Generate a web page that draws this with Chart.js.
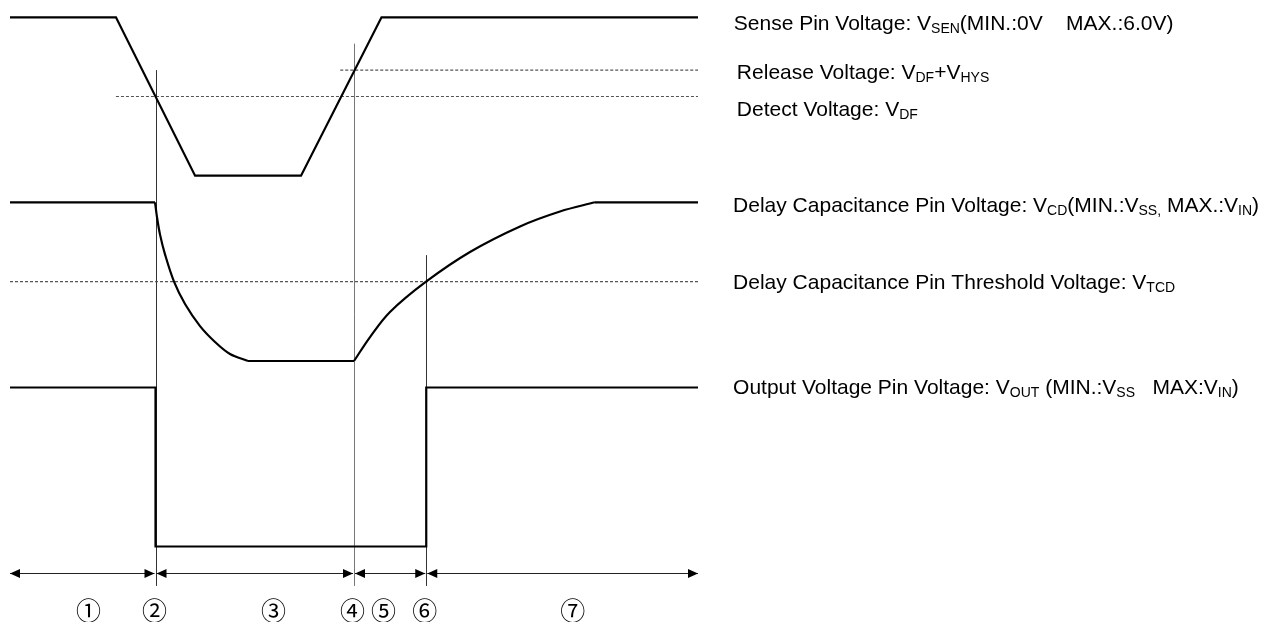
<!DOCTYPE html>
<html>
<head>
<meta charset="utf-8">
<title>Voltage detector timing chart</title>
<script src="https://cdn.jsdelivr.net/npm/chart.js@4.4.1/dist/chart.umd.min.js"></script>
<style>
    html, body { margin: 0; padding: 0; background: #ffffff; }
    #wrap { position: relative; width: 1265px; height: 622px; }
</style>
</head>
<body>
<div id="wrap"><canvas id="timingChart"></canvas></div>
<script>
// ── Time base: 0 … 100 = one detect / release cycle ──
// Sense pin voltage V_SEN (V)
const senTime = [0, 15.4, 26.9, 42.3, 54.0, 100];
const senVolt = [6, 6, 0, 0, 6, 6];
const detectVolt  = 3.0;     // V_DF
const releaseVolt = 4.0;     // V_DF + V_HYS
const detectFrom  = 15.4;
const releaseFrom = 48.0;

// Delay capacitance pin voltage V_CD (fraction of V_IN)
const cdFallTime  = [21.08, 21.37, 21.8, 22.53, 23.84, 25.44, 27.62, 29.8, 31.98, 34.59];
const cdFallLevel = [1, 0.905, 0.798, 0.672, 0.5, 0.359, 0.22, 0.12, 0.044, 0];
const cdRiseTime  = [50.0, 52.33, 55.23, 60.47, 66.86, 74.13, 79.94, 85.03];
const cdRiseLevel = [0, 0.151, 0.309, 0.5, 0.687, 0.848, 0.942, 1];
const thresholdCd = 0.5;     // V_TCD

// Output pin voltage V_OUT (fraction of V_IN)
const outTime  = [0, 21.15, 21.15, 60.5, 60.5, 100];
const outLevel = [1, 1, 0, 0, 1, 1];

// Periods along the bottom
const periodBounds     = [0, 21.15, 50.0, 60.5, 100];
const periodLabels     = ['①', '②', '③', '④', '⑤', '⑥', '⑦'];
const periodLabelTimes = [11.4, 21.0, 38.3, 49.8, 54.3, 60.3, 81.8];

// Right-hand captions: [text, isSubscript] pieces
const captions = [
    [['Sense Pin Voltage: V'], ['SEN', 1], ['(MIN.:0V    MAX.:6.0V)']],
    [['Release Voltage: V'], ['DF', 1], ['+V'], ['HYS', 1]],
    [['Detect Voltage: V'], ['DF', 1]],
    [['Delay Capacitance Pin Voltage: V'], ['CD', 1], ['(MIN.:V'], ['SS,', 1], [' MAX.:V'], ['IN', 1], [')']],
    [['Delay Capacitance Pin Threshold Voltage: V'], ['TCD', 1]],
    [['Output Voltage Pin Voltage: V'], ['OUT', 1], [' (MIN.:V'], ['SS', 1], ['   MAX:V'], ['IN', 1], [')']]
];

(function () {

    const W = 1265, H = 622;
    const X0 = 10, PX_PER_T = 6.88;

    // ── each trace gets its own hidden y axis (zero pixel, pixels per unit) ──
    function yAxis(zeroPx, unitPx) {
        return {
            type: 'linear', display: false, bounds: 'data',
            min: (zeroPx - H) / unitPx,
            max: zeroPx / unitPx
        };
    }

    const pts = (xs, ys) => xs.map((x, i) => ({ x, y: ys[i] }));

    // flat parts of V_CD between the two curves
    const cdFlat = [
        { x: 0, y: cdFallLevel[0] }, { x: cdFallTime[0], y: cdFallLevel[0] },
        { x: cdFallTime[0], y: null },
        { x: cdFallTime[cdFallTime.length - 1], y: 0 }, { x: cdRiseTime[0], y: 0 },
        { x: cdRiseTime[0], y: null },
        { x: cdRiseTime[cdRiseTime.length - 1], y: 1 }, { x: 100, y: 1 }
    ];

    const trace = (data, axis, extra) => Object.assign({
        data, yAxisID: axis, borderColor: '#000000', borderWidth: 2.2,
        pointRadius: 0, tension: 0, fill: false, order: 0, spanGaps: false
    }, extra || {});

    const dashed = (data, axis) => ({
        data, yAxisID: axis, borderColor: '#555555', borderWidth: 1.1,
        borderDash: [3, 2], pointRadius: 0, tension: 0, fill: false, order: 1
    });

    // ── marks that span several axes: event lines, period arrows, texts ──
    const timingMarks = {
        id: 'timingMarks',
        beforeDatasetsDraw(chart) {
            const { ctx, scales } = chart;
            const x = scales.x;
            const bottom = scales.yOut.getPixelForValue(-0.248);
            const tops = [
                { axis: 'ySen', v: releaseVolt, color: '#333333' },
                { axis: 'ySen', v: 5.0, color: '#777777' },
                { axis: 'yCd', v: 0.667, color: '#333333' }
            ];
            ctx.save();
            ctx.lineWidth = 1;
            periodBounds.slice(1, 4).forEach((t, i) => {
                const px = Math.round(x.getPixelForValue(t)) + 0.5;
                ctx.strokeStyle = tops[i].color;
                ctx.beginPath();
                ctx.moveTo(px, scales[tops[i].axis].getPixelForValue(tops[i].v));
                ctx.lineTo(px, bottom);
                ctx.stroke();
            });
            ctx.restore();
        },
        afterDatasetsDraw(chart) {
            const { ctx, scales } = chart;
            const x = scales.x;
            ctx.save();

            // period arrows
            const ay = Math.round(scales.yOut.getPixelForValue(-0.169)) + 0.5;
            ctx.strokeStyle = '#222222';
            ctx.fillStyle = '#000000';
            ctx.lineWidth = 1.2;
            const head = (tip, dir) => {
                ctx.beginPath();
                ctx.moveTo(tip, ay);
                ctx.lineTo(tip + dir * 10, ay - 4.5);
                ctx.lineTo(tip + dir * 10, ay + 4.5);
                ctx.closePath();
                ctx.fill();
            };
            for (let i = 0; i < periodBounds.length - 1; i++) {
                const a = x.getPixelForValue(periodBounds[i]) + (i === 0 ? 0 : 1);
                const b = x.getPixelForValue(periodBounds[i + 1]) - (i === periodBounds.length - 2 ? 0 : 1);
                ctx.beginPath();
                ctx.moveTo(a, ay);
                ctx.lineTo(b, ay);
                ctx.stroke();
                head(a, 1);
                head(b, -1);
            }

            // circled period numbers
            ctx.font = '25px "Noto Sans CJK JP", "DejaVu Sans", sans-serif';
            ctx.textAlign = 'center';
            ctx.textBaseline = 'middle';
            ctx.fillStyle = '#000000';
            const ly = scales.yOut.getPixelForValue(-0.40);
            periodLabels.forEach((lab, i) => ctx.fillText(lab, x.getPixelForValue(periodLabelTimes[i]), ly));

            // captions, anchored to the level they describe
            const anchors = [
                { t: 105.2, axis: 'ySen', v: 6, dy: 12.5 },
                { t: 105.65, axis: 'ySen', v: releaseVolt, dy: 9 },
                { t: 105.65, axis: 'ySen', v: detectVolt, dy: 19.3 },
                { t: 105.1, axis: 'yCd', v: 1, dy: 9.7 },
                { t: 105.1, axis: 'yCd', v: thresholdCd, dy: 7.5 },
                { t: 105.1, axis: 'yOut', v: 1, dy: 6.5 }
            ];
            ctx.textAlign = 'left';
            ctx.textBaseline = 'alphabetic';
            captions.forEach((parts, i) => {
                const an = anchors[i];
                let cx = x.getPixelForValue(an.t);
                const cy = scales[an.axis].getPixelForValue(an.v) + an.dy;
                parts.forEach(([txt, sub]) => {
                    ctx.font = sub ? '14px "Liberation Sans", Arial, sans-serif'
                                   : '21px "Liberation Sans", Arial, sans-serif';
                    ctx.fillText(txt, cx, cy + (sub ? 3 : 0));
                    cx += ctx.measureText(txt).width;
                });
            });
            ctx.restore();
        }
    };

    new Chart(document.getElementById('timingChart'), {
        type: 'line',
        data: {
            datasets: [
                trace(pts(senTime, senVolt), 'ySen'),
                trace(cdFlat, 'yCd'),
                trace(pts(cdFallTime, cdFallLevel), 'yCd', { tension: 0.35 }),
                trace(pts(cdRiseTime, cdRiseLevel), 'yCd', { tension: 0.35 }),
                trace(pts(outTime, outLevel), 'yOut'),
                dashed([{ x: releaseFrom, y: releaseVolt }, { x: 100, y: releaseVolt }], 'ySen'),
                dashed([{ x: detectFrom, y: detectVolt }, { x: 100, y: detectVolt }], 'ySen'),
                dashed([{ x: 0, y: thresholdCd }, { x: 100, y: thresholdCd }], 'yCd')
            ]
        },
        options: {
            responsive: true,
            maintainAspectRatio: false,
            animation: false,
            events: [],
            layout: { padding: 0 },
            parsing: false,
            plugins: { legend: { display: false }, tooltip: { enabled: false } },
            scales: {
                x: {
                    type: 'linear', display: false, bounds: 'data',
                    min: -X0 / PX_PER_T,
                    max: (W - X0) / PX_PER_T
                },
                ySen: yAxis(175.7, 26.4),
                yCd:  yAxis(361.0, 158.7),
                yOut: yAxis(546.5, 159.0)
            }
        },
        plugins: [timingMarks]
    });

})();
</script>
</body>
</html>
